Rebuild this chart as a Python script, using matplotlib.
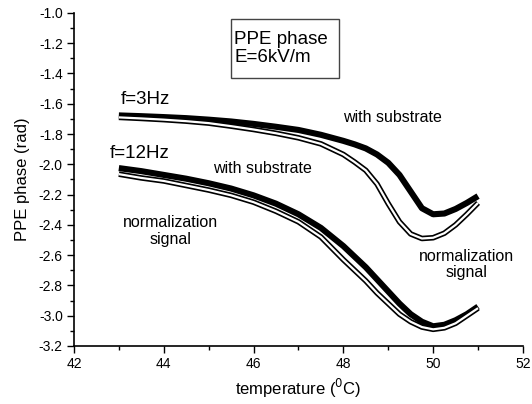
import matplotlib.pyplot as plt
from matplotlib.ticker import MultipleLocator
from matplotlib.patches import Rectangle

plt.rcParams['font.family'] = ['Liberation Sans', 'DejaVu Sans']

# temperature (C)
temp = [43.0, 43.5, 44.0, 44.5, 45.0, 45.5, 46.0, 46.5, 47.0, 47.5, 48.0,
        48.25, 48.5, 48.75, 49.0, 49.25, 49.5, 49.75, 50.0, 50.25, 50.5, 50.75, 51.0]

# f=3Hz
sub_3hz = [-1.677, -1.682, -1.688, -1.695, -1.705, -1.717, -1.733, -1.752, -1.773, -1.805, -1.845,
           -1.868, -1.895, -1.935, -1.990, -2.070, -2.180, -2.290, -2.330, -2.325, -2.295, -2.255, -2.210]
norm_3hz = [-1.690, -1.697, -1.705, -1.715, -1.728, -1.748, -1.770, -1.795, -1.825, -1.865, -1.935,
            -1.985, -2.040, -2.130, -2.260, -2.380, -2.460, -2.490, -2.485, -2.455, -2.400, -2.330, -2.255]

# f=12Hz
sub_12hz = [-2.025, -2.045, -2.070, -2.095, -2.125, -2.160, -2.205, -2.260, -2.330, -2.420, -2.540,
            -2.610, -2.680, -2.760, -2.840, -2.920, -2.990, -3.040, -3.070, -3.060, -3.030, -2.990, -2.940]
norm_12hz = [-2.065, -2.090, -2.110, -2.140, -2.170, -2.205, -2.250, -2.310, -2.380, -2.480, -2.630,
             -2.700, -2.770, -2.850, -2.920, -2.990, -3.040, -3.075, -3.090, -3.080, -3.050, -3.000, -2.950]

fig = plt.figure(figsize=(5.32, 4.04), dpi=100)
ax = fig.add_axes([0.139, 0.1436, 0.844, 0.8244])

# filled symbols -> solid thick band
for y in (sub_3hz, sub_12hz):
    ax.plot(temp, y, color='black', lw=4.4, solid_capstyle='butt')
# open symbols -> hollow band
for y in (norm_3hz, norm_12hz):
    ax.plot(temp, y, color='black', lw=4.0, solid_capstyle='butt')
    ax.plot(temp, y, color='white', lw=1.6, solid_capstyle='butt')

ax.set_xlim(42, 52)
ax.set_ylim(-3.2, -1.0)
ax.xaxis.set_major_locator(MultipleLocator(2))
ax.xaxis.set_minor_locator(MultipleLocator(1))
ax.yaxis.set_major_locator(MultipleLocator(0.2))
ax.yaxis.set_minor_locator(MultipleLocator(0.1))
ax.yaxis.set_major_formatter(plt.FuncFormatter(lambda v, p: '%.1f' % v))
ax.tick_params(which='major', direction='out', length=5, width=1, labelsize=10, pad=3)
ax.tick_params(which='minor', direction='out', length=3, width=1)
for s in ('top', 'right'):
    ax.spines[s].set_visible(False)
for s in ('left', 'bottom'):
    ax.spines[s].set_linewidth(1.2)

ax.set_xlabel('temperature ($^0$C)', fontsize=12, labelpad=4)
ax.set_ylabel('PPE phase (rad)', fontsize=12, labelpad=6)

ax.text(43.05, -1.57, 'f=3Hz', fontsize=13.5, va='center')
ax.text(42.8, -1.93, 'f=12Hz', fontsize=13.5, va='center')
ax.text(47.99, -1.69, 'with substrate', fontsize=11.5, va='center')
ax.text(45.1, -2.03, 'with substrate', fontsize=11.5, va='center')
ax.text(44.16, -2.44, 'normalization\nsignal', fontsize=11.5, ha='center', va='center', linespacing=1.1)
ax.text(50.75, -2.66, 'normalization\nsignal', fontsize=11.5, ha='center', va='center', linespacing=1.1)

ax.add_patch(Rectangle((45.5, -1.43), 2.4, 0.39, fill=False, edgecolor='#444444', lw=1))
ax.text(45.57, -1.234, 'PPE phase\nE=6kV/m', fontsize=13.5, va='center', linespacing=1.1)

fig.savefig('out.png', dpi=100)
